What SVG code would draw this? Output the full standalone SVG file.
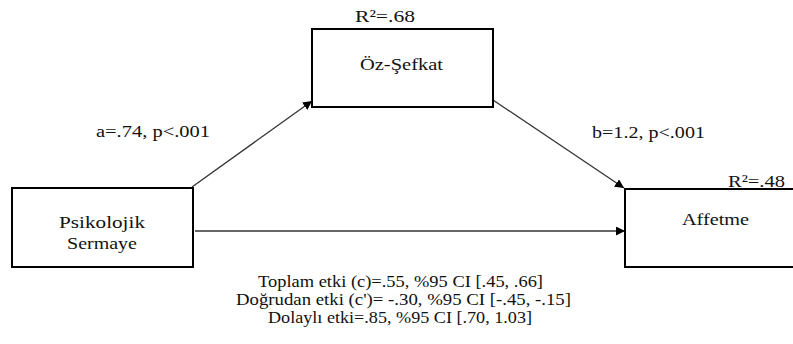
<svg xmlns="http://www.w3.org/2000/svg" width="793" height="344" viewBox="0 0 793 344">
<style>
text{font-family:"Liberation Serif","Times New Roman",Times,serif;font-size:17px;fill:#111;text-anchor:middle}
.box{fill:#fff;stroke:#000;stroke-width:2}
.edge{stroke:#333;stroke-width:1.3;fill:none;marker-end:url(#ah)}
</style>
<defs>
<marker id="ah" viewBox="0 0 10 10" refX="10" refY="5" markerWidth="9" markerHeight="9" markerUnits="userSpaceOnUse" orient="auto">
<path d="M0,0 L10,5 L0,10 z" fill="#000"/>
</marker>
</defs>
<rect width="793" height="344" fill="#fff"/>
<g id="connectors">
<line class="edge" x1="192" y1="187" x2="312" y2="101"/>
<line class="edge" x1="493" y1="100" x2="624" y2="188"/>
<line class="edge" x1="195" y1="231" x2="625" y2="231"/>
</g>
<g id="oz-sefkat">
<rect class="box" x="312" y="29" width="181" height="78"/>
<text x="401.5" y="70" textLength="83" lengthAdjust="spacingAndGlyphs">Öz-Şefkat</text>
<text x="385" y="22" textLength="60" lengthAdjust="spacingAndGlyphs">R²=.68</text>
</g>
<g id="psikolojik-sermaye">
<rect class="box" x="12" y="188" width="181" height="79"/>
<text x="102" y="228" textLength="86" lengthAdjust="spacingAndGlyphs">Psikolojik</text>
<text x="102" y="249" textLength="70" lengthAdjust="spacingAndGlyphs">Sermaye</text>
</g>
<g id="affetme">
<rect class="box" x="625" y="189" width="190" height="78"/>
<text x="715.5" y="225" textLength="67" lengthAdjust="spacingAndGlyphs">Affetme</text>
<text x="756.5" y="187" textLength="57" lengthAdjust="spacingAndGlyphs">R²=.48</text>
</g>
<g id="labels">
<text x="153" y="137" textLength="114" lengthAdjust="spacingAndGlyphs">a=.74, p&lt;.001</text>
<text x="648.5" y="138" textLength="113" lengthAdjust="spacingAndGlyphs">b=1.2, p&lt;.001</text>
<text x="400.5" y="287" textLength="285" lengthAdjust="spacingAndGlyphs">Toplam etki (c)=.55, %95 CI [.45, .66]</text>
<text x="403.5" y="305" textLength="335" lengthAdjust="spacingAndGlyphs">Doğrudan etki (c')= -.30, %95 CI [-.45, -.15]</text>
<text x="400" y="323" textLength="264" lengthAdjust="spacingAndGlyphs">Dolaylı etki=.85, %95 CI [.70, 1.03]</text>
</g>
</svg>
